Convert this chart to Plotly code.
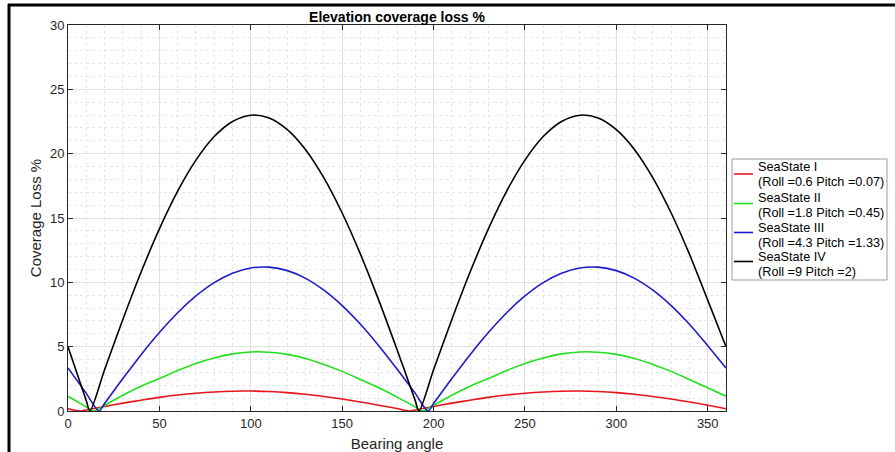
import plotly.graph_objects as go

# ---- data ----
black_x = [0, 10, 12] + list(range(20, 200, 10)) + [192] + list(range(200, 370, 10))
black_y = [5.0, 0.80, 0,
           3.20, 7.11, 10.80, 14.16, 17.09, 19.50, 21.33, 22.50, 22.99, 22.78, 21.87, 20.31, 18.12, 15.39, 12.19, 8.62, 4.78, 0.80,
           0,
           3.20, 7.11, 10.80, 14.16, 17.09, 19.50, 21.33, 22.50, 22.99, 22.78, 21.87, 20.31, 18.12, 15.39, 12.19, 8.62, 5.0]

blue_x = [0, 10, 17] + list(range(20, 200, 10)) + [197] + list(range(200, 370, 10))
blue_y = [3.35, 1.37, 0,
          0.59, 2.52, 4.38, 6.10, 7.64, 8.94, 9.98, 10.71, 11.12, 11.18, 10.91, 10.31, 9.39, 8.19, 6.74, 5.08, 3.27, 1.37,
          0,
          0.59, 2.52, 4.38, 6.10, 7.64, 8.94, 9.98, 10.71, 11.12, 11.18, 10.91, 10.31, 9.39, 8.19, 6.74, 5.08, 3.35]

green_x = [0, 10, 14] + list(range(20, 200, 10)) + [194] + list(range(200, 370, 10))
green_y = [1.15, 0.32, 0,
           0.45, 1.22, 1.92, 2.52, 3.15, 3.70, 4.12, 4.44, 4.59, 4.57, 4.40, 4.08, 3.62, 3.08, 2.45, 1.80, 1.08, 0.32,
           0,
           0.45, 1.22, 1.92, 2.52, 3.15, 3.70, 4.12, 4.44, 4.59, 4.57, 4.40, 4.08, 3.62, 3.08, 2.45, 1.80, 1.15]

red_x = [0, 7] + list(range(10, 190, 10)) + [187] + list(range(190, 370, 10))
red_y = [0.17, 0,
         0.08, 0.35, 0.61, 0.84, 1.06, 1.24, 1.38, 1.48, 1.54, 1.55, 1.51, 1.43, 1.30, 1.13, 0.93, 0.70, 0.45, 0.19,
         0,
         0.08, 0.35, 0.61, 0.84, 1.06, 1.24, 1.38, 1.48, 1.54, 1.55, 1.51, 1.43, 1.30, 1.13, 0.93, 0.70, 0.45, 0.17]

series_titles = ["SeaState I", "SeaState II", "SeaState III", "SeaState IV"]
series_params = ["(Roll =0.6 Pitch =0.07)", "(Roll =1.8 Pitch =0.45)",
                 "(Roll =4.3 Pitch =1.33)", "(Roll =9 Pitch =2)"]
series_colors = ["#e8141c", "#22e01e", "#1c1ccc", "#000000"]

x_ticks = [0, 50, 100, 150, 200, 250, 300, 350]
y_ticks = [0, 5, 10, 15, 20, 25, 30]

FONT = "Liberation Sans, Arial, sans-serif"
AX = "#262626"

# plot-area geometry (pixels) used to place the hand-made legend box
L, R, T, B = 68, 726, 25, 411
W, H = R - L, B - T


def px(x):
    return (x - L) / W


def py(y):
    return (B - y) / H


fig = go.Figure()
for xs, ys, t, p, col in zip([red_x, green_x, blue_x, black_x],
                             [red_y, green_y, blue_y, black_y],
                             series_titles, series_params, series_colors):
    fig.add_trace(go.Scatter(x=xs, y=ys, mode="lines", name=t + " " + p,
                             line=dict(color=col, width=1.6, shape="spline", smoothing=0.8),
                             showlegend=False))

axis_common = dict(
    showline=True, linecolor=AX, linewidth=1, mirror="ticks",
    ticks="inside", ticklen=5, tickcolor=AX, tickwidth=1,
    showgrid=True, gridcolor="#e0e0e0", gridwidth=1,
    zeroline=False,
    tickfont=dict(family=FONT, size=13, color=AX),
)

fig.update_xaxes(range=[0, 360], tickvals=x_ticks, automargin=False,
                 minor=dict(dtick=10, showgrid=True, gridcolor="#e6e6e6", griddash="dot", ticks=""),
                 title=dict(text="Bearing angle", font=dict(family=FONT, size=15, color=AX)),
                 **axis_common)
fig.update_yaxes(range=[0, 30], tickvals=y_ticks, automargin=True,
                 minor=dict(dtick=1, showgrid=True, gridcolor="#e6e6e6", griddash="dot", ticks=""),
                 title=dict(text="Coverage Loss %", font=dict(family=FONT, size=15, color=AX), standoff=4),
                 **axis_common)

fig.update_layout(
    width=895, height=452,
    margin=dict(l=L, r=895 - R, t=T, b=452 - B),
    paper_bgcolor="white", plot_bgcolor="white",
    font=dict(family=FONT, color=AX),
    title=dict(text="<b>Elevation coverage loss %</b>", x=0.5, xref="paper", xanchor="center",
               y=1.0, yref="paper", yanchor="bottom", pad=dict(b=3),
               font=dict(family=FONT, size=14, color="#000000")),
    showlegend=False,
)

# legend box (drawn by hand to match the reference spacing)
fig.add_shape(type="rect", xref="paper", yref="paper",
              x0=px(732), x1=px(887), y0=py(280), y1=py(159),
              line=dict(color="#9a9a9a", width=1), fillcolor="white", layer="above")
sym_y = [174, 203.5, 232.5, 261.5]
title_y = [167, 198, 227.5, 257]
param_y = [182, 213, 242.5, 272]
for i in range(4):
    fig.add_shape(type="line", xref="paper", yref="paper",
                  x0=px(734), x1=px(753), y0=py(sym_y[i]), y1=py(sym_y[i]),
                  line=dict(color=series_colors[i], width=1.6), layer="above")
    fig.add_annotation(xref="paper", yref="paper", x=px(756), y=py(title_y[i]),
                       xanchor="left", yanchor="middle", showarrow=False,
                       text=series_titles[i], font=dict(family=FONT, size=12.7, color="#000000"))
    fig.add_annotation(xref="paper", yref="paper", x=px(756), y=py(param_y[i]),
                       xanchor="left", yanchor="middle", showarrow=False,
                       text=series_params[i], font=dict(family=FONT, size=12.7, color="#000000"))

# outer frame lines (left and top)
fig.add_shape(type="line", xref="paper", yref="paper",
              x0=px(9), x1=px(9), y0=py(455), y1=py(4),
              line=dict(color="black", width=3))
fig.add_shape(type="line", xref="paper", yref="paper",
              x0=px(8), x1=px(900), y0=py(5), y1=py(5),
              line=dict(color="black", width=3))

fig.write_html("out.html")
